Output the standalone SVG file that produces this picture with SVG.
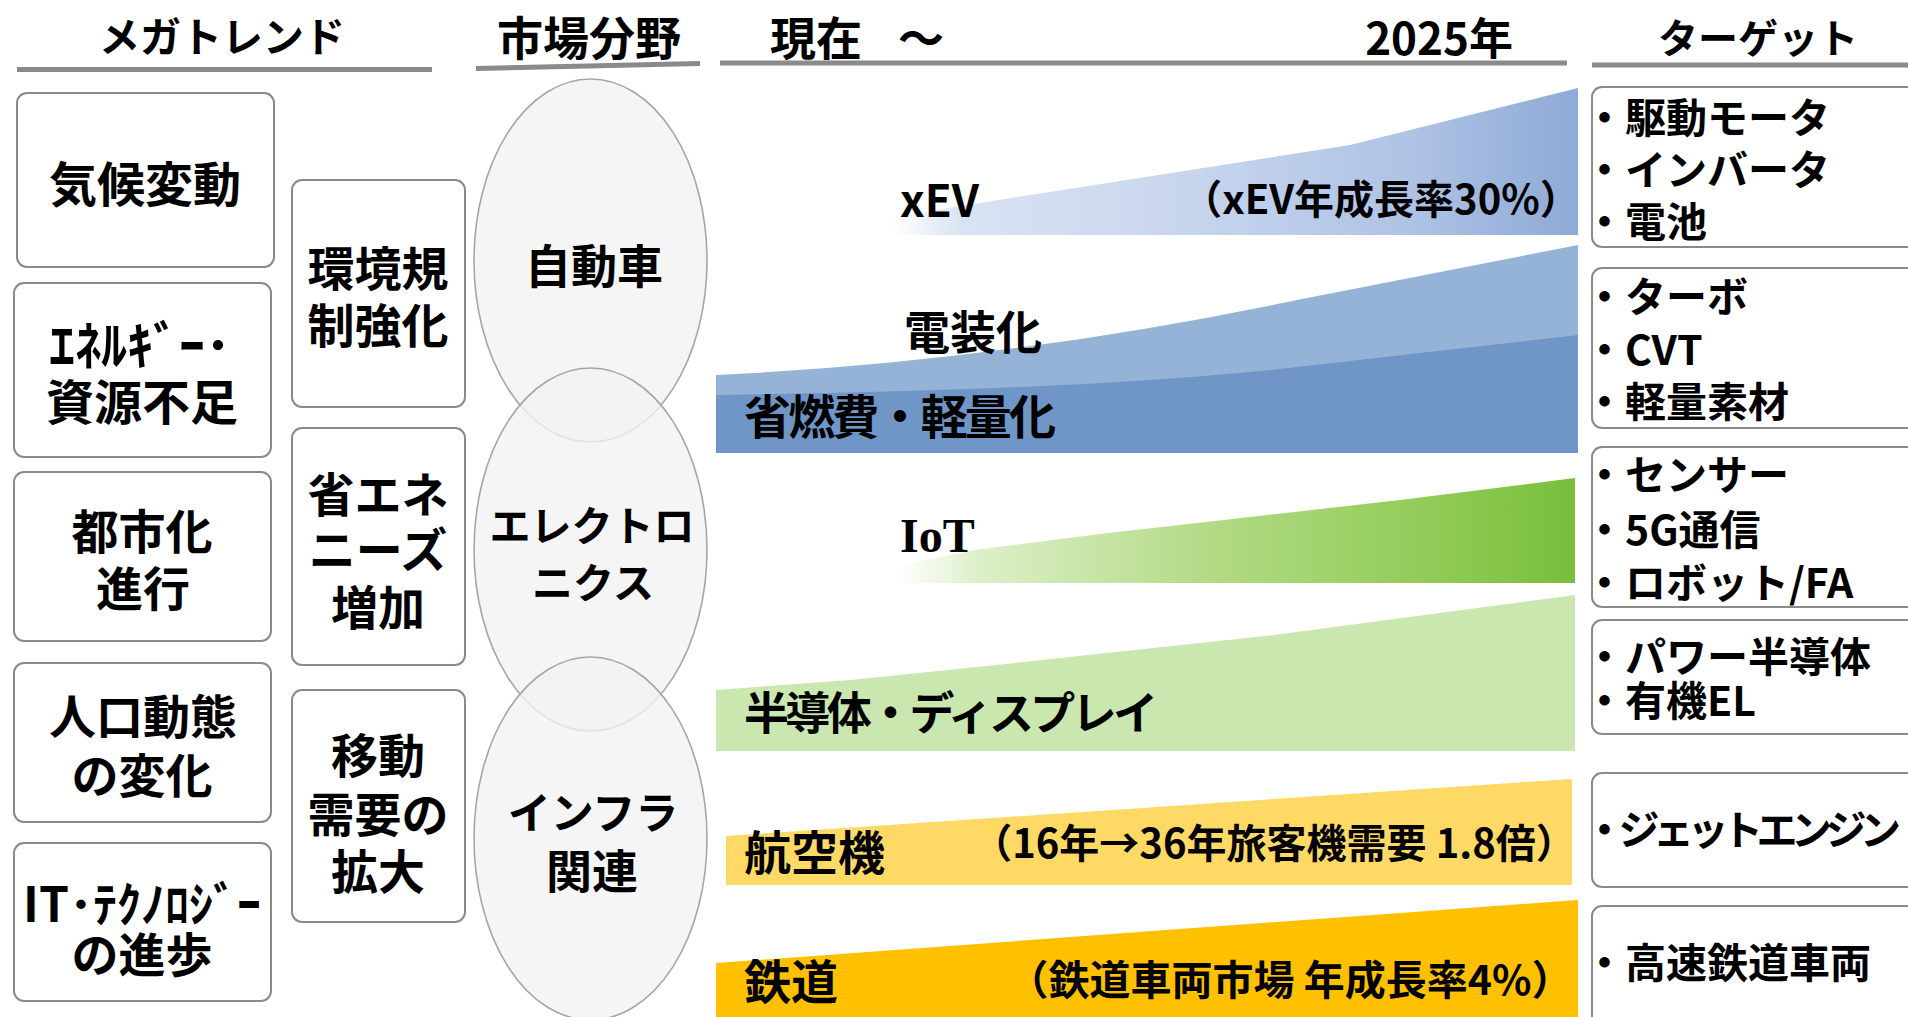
<svg xmlns="http://www.w3.org/2000/svg" width="1908" height="1017" viewBox="0 0 1908 1017">
<defs>
<style>
.t{font-family:"Noto Sans CJK JP","Noto Sans",sans-serif;font-weight:bold;fill:#000}
.m{text-anchor:middle}
.box{fill:#fff;stroke:#8a8a8a;stroke-width:2}
.ell{fill:#f2f2f2;fill-opacity:.8;stroke:#a6a6a6;stroke-width:1.6}
.hdr{stroke:#8a8a8a;stroke-width:5;fill:none}
</style>
<linearGradient id="gx" gradientUnits="userSpaceOnUse" x1="893" y1="0" x2="1578" y2="0">
<stop offset="0" stop-color="#ffffff"/>
<stop offset="0.1" stop-color="#d9e3f3"/>
<stop offset="0.45" stop-color="#c6d4ed"/>
<stop offset="0.75" stop-color="#afc3e5"/>
<stop offset="1" stop-color="#8eaad6"/>
</linearGradient>
<linearGradient id="gi" gradientUnits="userSpaceOnUse" x1="900" y1="0" x2="1575" y2="0">
<stop offset="0" stop-color="#ffffff"/>
<stop offset="0.12" stop-color="#dcefc8"/>
<stop offset="0.45" stop-color="#b3db86"/>
<stop offset="0.75" stop-color="#95cd5c"/>
<stop offset="1" stop-color="#78bf3b"/>
</linearGradient>
</defs>
<rect width="1908" height="1017" fill="#fff"/>

<g id="headers">
<text class="t m" x="222" y="52" font-size="41">メガトレンド</text>
<line class="hdr" x1="17" y1="69.5" x2="432" y2="69.5"/>
<text class="t m" x="589" y="55" font-size="46">市場分野</text>
<line class="hdr" x1="476" y1="68.5" x2="700" y2="63.5"/>
<text class="t" x="770" y="55" font-size="46">現在<tspan x="898">～</tspan></text>
<text class="t" x="1513" y="55" font-size="44" text-anchor="end">2025年</text>
<line class="hdr" x1="720" y1="63" x2="1567" y2="63"/>
<text class="t m" x="1758" y="53" font-size="40">ターゲット</text>
<line class="hdr" x1="1592" y1="65" x2="1908" y2="65"/>
</g>

<g id="megatrends">
<g id="mt-climate">
<rect class="box" x="17" y="93" width="257" height="174" rx="10"/>
<text class="t m" x="145" y="202" font-size="48">気候変動</text>
</g>
<g id="mt-energy">
<rect class="box" x="14" y="283" width="257" height="174" rx="10"/>
<text class="t m" font-size="48"><tspan x="140" y="365" font-size="52">ｴﾈﾙｷﾞｰ･</tspan><tspan x="142" y="420">資源不足</tspan></text>
</g>
<g id="mt-urban">
<rect class="box" x="14" y="472" width="257" height="169" rx="10"/>
<text class="t m" font-size="47"><tspan x="142" y="549">都市化</tspan><tspan x="143" y="606">進行</tspan></text>
</g>
<g id="mt-population">
<rect class="box" x="14" y="663" width="257" height="159" rx="10"/>
<text class="t m" font-size="47"><tspan x="143" y="734">人口動態</tspan><tspan x="142" y="793">の変化</tspan></text>
</g>
<g id="mt-it">
<rect class="box" x="14" y="843" width="257" height="158" rx="10"/>
<text class="t m" font-size="47"><tspan x="142" y="922" font-size="48">IT･ﾃｸﾉﾛｼﾞｰ</tspan><tspan x="142" y="972">の進歩</tspan></text>
</g>
</g>

<g id="drivers">
<g id="dr-env">
<rect class="box" x="292" y="180" width="173" height="227" rx="10"/>
<text class="t m" font-size="47"><tspan x="378" y="286">環境規</tspan><tspan x="378" y="343">制強化</tspan></text>
</g>
<g id="dr-energy">
<rect class="box" x="292" y="428" width="173" height="237" rx="10"/>
<text class="t m" font-size="47"><tspan x="378" y="512">省エネ</tspan><tspan x="378" y="567">ニーズ</tspan><tspan x="378" y="625">増加</tspan></text>
</g>
<g id="dr-mobility">
<rect class="box" x="292" y="690" width="173" height="232" rx="10"/>
<text class="t m" font-size="47"><tspan x="378" y="773">移動</tspan><tspan x="378" y="832">需要の</tspan><tspan x="378" y="889">拡大</tspan></text>
</g>
</g>

<g id="markets">
<g id="mk-auto">
<ellipse class="ell" cx="590.5" cy="260.5" rx="116.5" ry="181.5"/>
</g>
<g id="mk-elec">
<ellipse class="ell" cx="590.5" cy="549.5" rx="116.5" ry="181.5"/>
</g>
<g id="mk-infra">
<ellipse class="ell" cx="590.5" cy="838.5" rx="116.5" ry="181.5"/>
</g>
<text class="t m" x="594" y="283" font-size="46">自動車</text>
<text class="t m" font-size="41"><tspan x="592" y="541">エレクトロ</tspan><tspan x="593" y="598">ニクス</tspan></text>
<text class="t m" font-size="46"><tspan x="593" y="829" font-size="43">インフラ</tspan><tspan x="592" y="888">関連</tspan></text>
</g>

<g id="trends">
<g id="tr-xev">
<path d="M880,235 L880,219 L967,205 L1350,145 L1578,88 L1578,235 Z" fill="url(#gx)"/>
<text class="t" x="900" y="217" font-size="44">xEV</text>
<text class="t m" x="1381" y="214" font-size="40">（xEV年成長率30%）</text>
</g>
<g id="tr-elec">
<path d="M716,375 Q1000,362 1297,300 L1578,245 L1578,453 L716,453 Z" fill="#95b3d7"/>
<text class="t m" x="973" y="349" font-size="46">電装化</text>
</g>
<g id="tr-fuel">
<path d="M716,395 Q1100,390 1297,367 L1578,335 L1578,453 L716,453 Z" fill="#6f96c7"/>
<text class="t" x="744" y="434" font-size="47" textLength="312" lengthAdjust="spacing">省燃費・軽量化</text>
</g>
<g id="tr-iot">
<path d="M895,583 L895,566 L975,550 L1100,534 L1400,500 L1575,478 L1575,583 Z" fill="url(#gi)"/>
<text x="900" y="552" font-family="'Liberation Serif',serif" font-weight="bold" font-size="48" fill="#000">IoT</text>
</g>
<g id="tr-semi">
<path d="M716,690 L850,680 L987,666 L1274,635 L1575,595 L1575,751 L716,751 Z" fill="#cbe7b0"/>
<text class="t" x="744" y="730" font-size="45" textLength="414" lengthAdjust="spacing">半導体・ディスプレイ</text>
</g>
<g id="tr-air">
<path d="M726,836 L1572,779 L1572,885 L726,885 Z" fill="#ffd966"/>
<text class="t" x="744" y="870" font-size="47">航空機</text>
<text class="t m" x="1274" y="858" font-size="40">（16年→36年旅客機需要 1.8倍）</text>
</g>
<g id="tr-rail">
<path d="M716,963 L1578,900 L1578,1017 L716,1017 Z" fill="#ffc000"/>
<text class="t" x="744" y="999" font-size="47">鉄道</text>
<text class="t m" x="1290" y="995" font-size="41">（鉄道車両市場 年成長率4%）</text>
</g>
</g>

<g id="targets">
<g id="tg-xev">
<rect class="box" x="1592" y="87" width="340" height="160" rx="10"/>
<text class="t" font-size="41"><tspan x="1584" y="133">・駆動モータ</tspan><tspan x="1584" y="185">・インバータ</tspan><tspan x="1584" y="237">・電池</tspan></text>
</g>
<g id="tg-auto">
<rect class="box" x="1592" y="268" width="340" height="160" rx="10"/>
<text class="t" font-size="41"><tspan x="1584" y="312">・ターボ</tspan><tspan x="1584" y="365">・CVT</tspan><tspan x="1584" y="417">・軽量素材</tspan></text>
</g>
<g id="tg-iot">
<rect class="box" x="1592" y="447" width="340" height="160" rx="10"/>
<text class="t" font-size="41"><tspan x="1584" y="490">・センサー</tspan><tspan x="1584" y="545">・5G通信</tspan><tspan x="1584" y="598">・ロボット/FA</tspan></text>
</g>
<g id="tg-semi">
<rect class="box" x="1592" y="620" width="340" height="114" rx="10"/>
<text class="t" font-size="41"><tspan x="1584" y="672">・パワー半導体</tspan><tspan x="1584" y="716">・有機EL</tspan></text>
</g>
<g id="tg-air">
<rect class="box" x="1592" y="773" width="340" height="114" rx="10"/>
<text class="t" x="1584" y="845" font-size="41" letter-spacing="-6.5">・ジェットエンジン</text>
</g>
<g id="tg-rail">
<rect class="box" x="1592" y="906" width="340" height="130" rx="10"/>
<text class="t" x="1584" y="978" font-size="41">・高速鉄道車両</text>
</g>
</g>

<g id="connectors"/>
</svg>
